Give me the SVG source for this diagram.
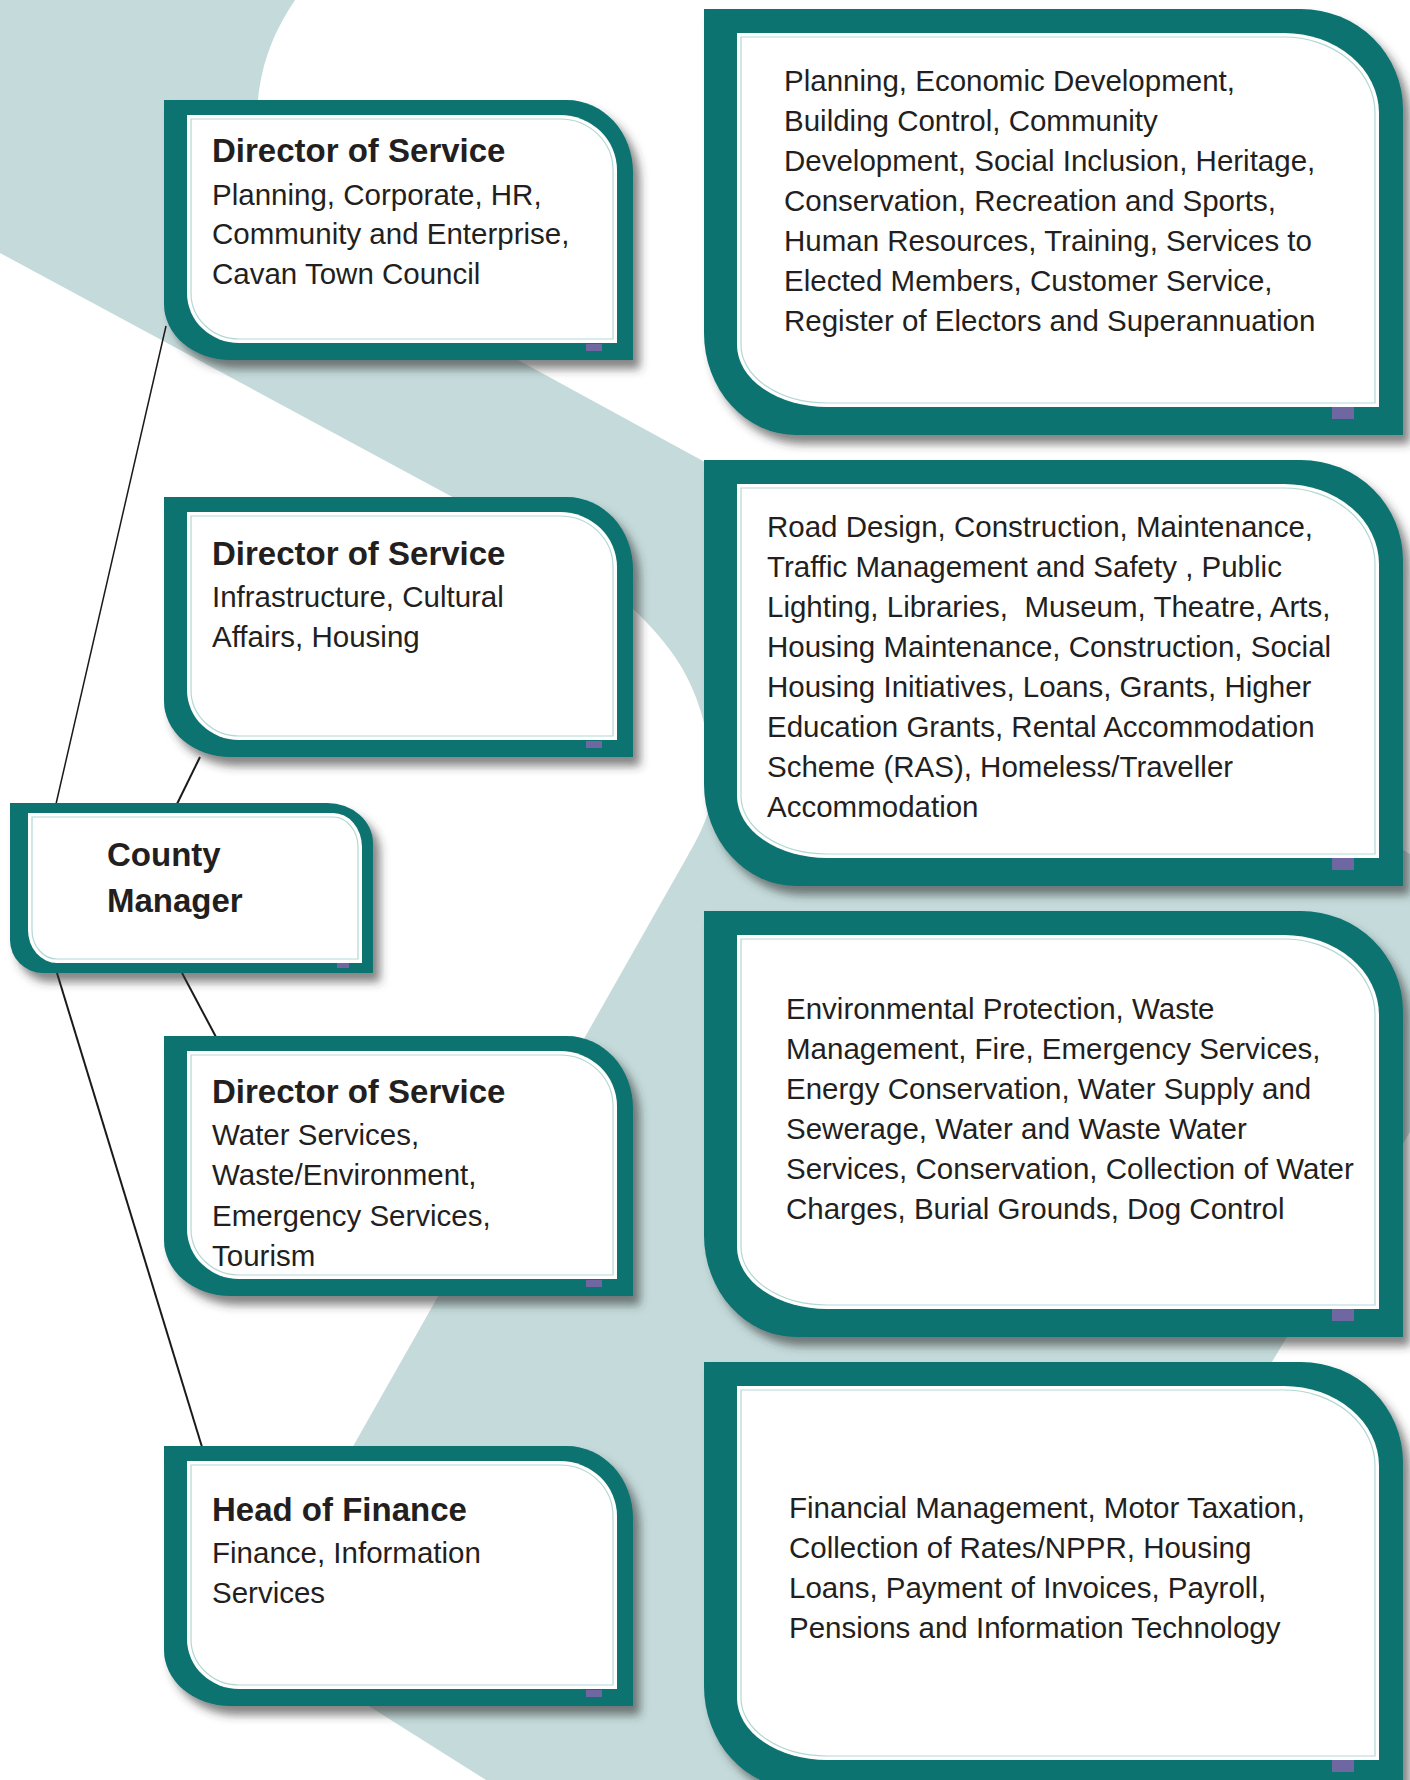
<svg xmlns="http://www.w3.org/2000/svg" xmlns:xlink="http://www.w3.org/1999/xlink" width="1410" height="1780" viewBox="0 0 1410 1780">
<style>
.outer{fill:#087371;}
.inner{fill:#ffffff;}
.iline{fill:none;stroke:#b3d7d5;stroke-width:1.2;}
.mark{fill:#6e67a1;}
.title{font-family:"Liberation Sans",Arial,sans-serif;font-weight:bold;font-size:33px;fill:#231f20;}
.body{font-family:"Liberation Sans",Arial,sans-serif;font-size:29.5px;fill:#231f20;}
.conn{stroke:#1a1a1a;fill:none;}
</style>
<defs>
<filter id="sh" x="-10%" y="-10%" width="125%" height="130%">
<feDropShadow dx="7" dy="9" stdDeviation="5" flood-color="#333333" flood-opacity="0.6"/>
</filter>
<path id="dOuter" d="M0,0 H403 A66 72 0 0 1 469,72 V260 H66 A66 56 0 0 1 0,204 Z"/>
<path id="dInner" d="M23,15 H396 A57 55 0 0 1 453,70 V243 H75 A52 50 0 0 1 23,193 Z"/>
<path id="dLine" d="M27,19 H396 A53 51 0 0 1 449,70 V239 H75 A48 46 0 0 1 27,193 Z"/>
<path id="rOuter" d="M0,0 H597 A102 100 0 0 1 699,100 V426 H92 A92 102 0 0 1 0,324 Z"/>
<path id="rInner" d="M33,24 H580 A95 80 0 0 1 675,104 V398 H123 A90 62 0 0 1 33,336 Z"/>
<path id="rLine" d="M37,28 H580 A91 76 0 0 1 671,104 V394 H123 A86 58 0 0 1 37,336 Z"/>
<path id="cOuter" d="M0,0 H317 A46 40 0 0 1 363,40 V170 H33 A33 33 0 0 1 0,137 Z"/>
<path id="cInner" d="M18,10 H323 A29 34 0 0 1 352,44 V160 H47 A29 33 0 0 1 18,127 Z"/>
<path id="cLine" d="M22,14 H323 A25 30 0 0 1 348,44 V156 H47 A25 29 0 0 1 22,127 Z"/>
</defs>

<g id="background">
<rect x="0" y="0" width="1410" height="1780" fill="#c5dbdb"/>
<path fill="#ffffff" d="M295,0 H1410 V854 L703,461 L518,360 L450,322 C300,240 250,160 258,100 C262,60 275,30 295,0 Z"/>
<path fill="#ffffff" d="M0,253 L560,555 C600,577 640,610 670,650 C700,690 712,740 712,790 C712,810 700,835 687,857 L262,1607 Q249,1630 272,1645 L486,1780 H0 Z"/>
<path fill="#ffffff" d="M1410,1132 V1780 H1021 Z"/>
</g>

<g id="connectors">
<line class="conn" stroke-width="1.5" x1="166" y1="326" x2="56" y2="804"/>
<line class="conn" stroke-width="2" x1="200" y1="757" x2="177" y2="804"/>
<line class="conn" stroke-width="2" x1="57" y1="973" x2="202" y2="1447"/>
<line class="conn" stroke-width="2" x1="182" y1="973" x2="216" y2="1037"/>
</g>

<g id="county-manager" transform="translate(10,803)">
<use href="#cOuter" class="outer" filter="url(#sh)"/>
<use href="#cInner" class="inner"/>
<use href="#cLine" class="iline"/>
<rect class="mark" x="327" y="160" width="12" height="5"/>
<text class="title" x="97" y="63">County</text>
<text class="title" x="97" y="109">Manager</text>
</g>

<g id="director-planning" transform="translate(164,100)">
<use href="#dOuter" class="outer" filter="url(#sh)"/>
<use href="#dInner" class="inner"/>
<use href="#dLine" class="iline"/>
<rect class="mark" x="422" y="244" width="16" height="7"/>
<text class="title" x="48" y="62">Director of Service</text>
<text class="body" x="48" y="105">Planning, Corporate, HR,</text>
<text class="body" x="48" y="144">Community and Enterprise,</text>
<text class="body" x="48" y="184">Cavan Town Council</text>
</g>

<g id="director-infrastructure" transform="translate(164,497)">
<use href="#dOuter" class="outer" filter="url(#sh)"/>
<use href="#dInner" class="inner"/>
<use href="#dLine" class="iline"/>
<rect class="mark" x="422" y="244" width="16" height="7"/>
<text class="title" x="48" y="68">Director of Service</text>
<text class="body" x="48" y="110">Infrastructure, Cultural</text>
<text class="body" x="48" y="150">Affairs, Housing</text>
</g>

<g id="director-water" transform="translate(164,1036)">
<use href="#dOuter" class="outer" filter="url(#sh)"/>
<use href="#dInner" class="inner"/>
<use href="#dLine" class="iline"/>
<rect class="mark" x="422" y="244" width="16" height="7"/>
<text class="title" x="48" y="67">Director of Service</text>
<text class="body" x="48" y="109">Water Services,</text>
<text class="body" x="48" y="149">Waste/Environment,</text>
<text class="body" x="48" y="190">Emergency Services,</text>
<text class="body" x="48" y="230">Tourism</text>
</g>

<g id="head-of-finance" transform="translate(164,1446)">
<use href="#dOuter" class="outer" filter="url(#sh)"/>
<use href="#dInner" class="inner"/>
<use href="#dLine" class="iline"/>
<rect class="mark" x="422" y="244" width="16" height="7"/>
<text class="title" x="48" y="75">Head of Finance</text>
<text class="body" x="48" y="117">Finance, Information</text>
<text class="body" x="48" y="157">Services</text>
</g>

<g id="functions-planning" transform="translate(704,9)">
<use href="#rOuter" class="outer" filter="url(#sh)"/>
<use href="#rInner" class="inner"/>
<use href="#rLine" class="iline"/>
<rect class="mark" x="628" y="398" width="22" height="12"/>
<text class="body" x="80" y="82">Planning, Economic Development,</text>
<text class="body" x="80" y="122">Building Control, Community</text>
<text class="body" x="80" y="162">Development, Social Inclusion, Heritage,</text>
<text class="body" x="80" y="202">Conservation, Recreation and Sports,</text>
<text class="body" x="80" y="242">Human Resources, Training, Services to</text>
<text class="body" x="80" y="282">Elected Members, Customer Service,</text>
<text class="body" x="80" y="322">Register of Electors and Superannuation</text>
</g>

<g id="functions-infrastructure" transform="translate(704,460)">
<use href="#rOuter" class="outer" filter="url(#sh)"/>
<use href="#rInner" class="inner"/>
<use href="#rLine" class="iline"/>
<rect class="mark" x="628" y="398" width="22" height="12"/>
<text class="body" x="63" y="77">Road Design, Construction, Maintenance,</text>
<text class="body" x="63" y="117">Traffic Management and Safety , Public</text>
<text class="body" x="63" y="157" xml:space="preserve" style="white-space:pre">Lighting, Libraries,  Museum, Theatre, Arts,</text>
<text class="body" x="63" y="197">Housing Maintenance, Construction, Social</text>
<text class="body" x="63" y="237">Housing Initiatives, Loans, Grants, Higher</text>
<text class="body" x="63" y="277">Education Grants, Rental Accommodation</text>
<text class="body" x="63" y="317">Scheme (RAS), Homeless/Traveller</text>
<text class="body" x="63" y="357">Accommodation</text>
</g>

<g id="functions-water" transform="translate(704,911)">
<use href="#rOuter" class="outer" filter="url(#sh)"/>
<use href="#rInner" class="inner"/>
<use href="#rLine" class="iline"/>
<rect class="mark" x="628" y="398" width="22" height="12"/>
<text class="body" x="82" y="108">Environmental Protection, Waste</text>
<text class="body" x="82" y="148">Management, Fire, Emergency Services,</text>
<text class="body" x="82" y="188">Energy Conservation, Water Supply and</text>
<text class="body" x="82" y="228">Sewerage, Water and Waste Water</text>
<text class="body" x="82" y="268">Services, Conservation, Collection of Water</text>
<text class="body" x="82" y="308">Charges, Burial Grounds, Dog Control</text>
</g>

<g id="functions-finance" transform="translate(704,1362)">
<use href="#rOuter" class="outer" filter="url(#sh)"/>
<use href="#rInner" class="inner"/>
<use href="#rLine" class="iline"/>
<rect class="mark" x="628" y="398" width="22" height="12"/>
<text class="body" x="85" y="156">Financial Management, Motor Taxation,</text>
<text class="body" x="85" y="196">Collection of Rates/NPPR, Housing</text>
<text class="body" x="85" y="236">Loans, Payment of Invoices, Payroll,</text>
<text class="body" x="85" y="276">Pensions and Information Technology</text>
</g>
</svg>
